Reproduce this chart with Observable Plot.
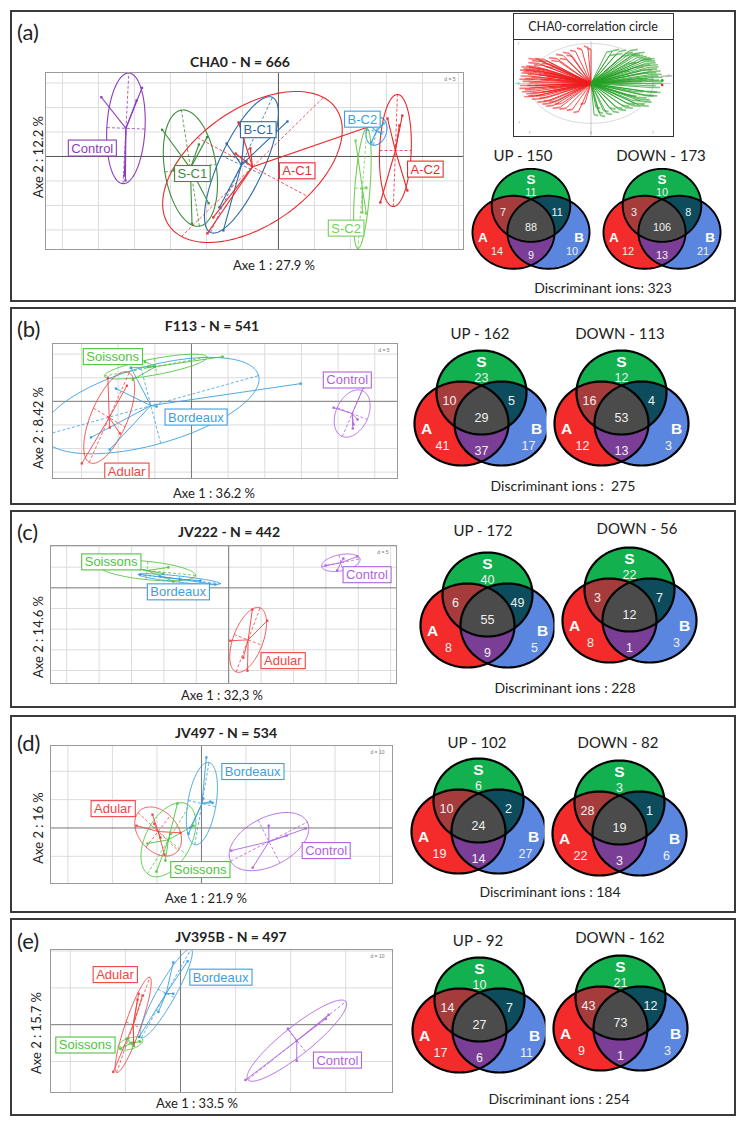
<!DOCTYPE html>
<html><head><meta charset="utf-8">
<script src="https://cdn.jsdelivr.net/npm/d3@7"></script>
<script src="https://cdn.jsdelivr.net/npm/@observablehq/plot@0.6"></script>
<style>
body{margin:0;background:#fff;}
#fig{position:relative;width:746px;height:1123px;overflow:hidden;font-family:Lato,"Open Sans",sans-serif;color:#222;background:#fff;}
.t{position:absolute;white-space:pre;transform:translate(-50%,-50%);line-height:1;}
.box{position:absolute;box-sizing:border-box;border:2px solid #3a3a3a;}
</style></head>
<body><div id="fig"></div>
<script>
// ---------------- DATA ----------------
const panelIds = ["(a)","(b)","(c)","(d)","(e)"];
const panelTitles = ["CHA0 - N = 666","F113 - N = 541","JV222 - N = 442","JV497 - N = 534","JV395B - N = 497"];
const axis1Labels = ["Axe 1 : 27.9 %","Axe 1 : 36.2 %","Axe 1 : 32,3 %","Axe 1 : 21.9 %","Axe 1 : 33.5 %"];
const axis2Labels = ["Axe 2 : 12.2 %","Axe 2 : 8.42 %","Axe 2 : 14.6 %","Axe 2 : 16 %","Axe 2 : 15.7 %"];
const gridD = ["d = 5","d = 5","d = 5","d = 10","d = 10"];
const upTotals = [150,162,172,102,92];
const downTotals = [173,113,56,82,162];
const discriminantIons = [323,275,228,184,254];
const discriminantPrefix = ["Discriminant ions: ","Discriminant ions :  ","Discriminant ions : ","Discriminant ions : ","Discriminant ions : "];

const vennRegions = ["S","A","B","AS","SB","AB","ASB"];
const vennUp = [[11,14,10,7,11,9,88],[23,41,17,10,5,37,29],[40,8,5,6,49,9,55],[6,19,27,10,2,14,24],[10,17,11,14,7,6,27]];
const vennDown = [[10,12,21,3,8,13,106],[12,12,3,16,4,13,53],[22,8,3,3,7,1,12],[3,22,6,28,1,3,19],[21,9,3,43,12,1,73]];

// PCA (between-class) scores, grid units
const groupsA = ["Control","S-C1","B-C1","A-C1","S-C2","B-C2","A-C2"];
const scoresA = [
 [[-4.92,2.42],[-3.79,2.80],[-3.94,2.29],[-4.28,-0.78],[-4.25,-0.98]],
 [[-3.23,1.09],[-1.98,0.79],[-2.21,0.49],[-2.91,-0.57],[-1.94,-1.91],[-2.40,-2.75]],
 [[0.25,1.43],[-1.44,0.53],[-0.92,1.27],[-1.64,-2.08],[-1.53,-3.02],[-0.89,-0.20]],
 [[2.53,1.22],[-1.11,1.39],[-0.78,0.33],[-1.97,-3.14],[-1.81,-2.49],[-1.19,0.12]],
 [[2.14,0.65],[2.31,-1.31],[2.33,-2.29],[2.44,-2.33],[2.44,-1.27]],
 [[2.53,1.27],[2.58,0.57],[2.92,1.35],[2.86,0.94]],
 [[3.03,1.55],[3.36,1.27],[2.83,-1.88],[3.58,-1.39],[3.44,1.67]]
];
const ellipseA = [[0.08,2.26,0.53,-0.03],[-0.25,2.37,0.71,0.16],[0.86,2.76,0.56,-0.38],[1.97,2.84,1.53,-1.20],[0.125,2.45,0.21,-0.02],[0.083,0.57,0.28,-0.04],[0.056,2.29,0.44,0]];

const groupsB = ["Soissons","Bordeaux","Adular","Control"];
const scoresB = [
 [[0.85,1.89],[-1.19,1.46],[-1.00,1.46],[-1.65,1.42],[-1.60,0.92],[-1.27,1.68]],
 [[2.98,0.75],[-2.06,0.54],[-1.65,1.42],[-2.74,-1.53],[-2.23,-2.04],[-0.95,-0.22]],
 [[-2.28,1.00],[-1.76,0.66],[-2.25,-0.69],[-2.23,-1.11],[-1.95,-1.36],[-2.99,-2.63]],
 [[3.88,-0.27],[4.69,0.58],[4.53,-0.77],[4.42,-0.98],[4.40,-1.15]]
];
const ellipseB = [[1.40,0.40,0.03,-0.34],[2.94,1.27,0.27,-1.60],[0.545,1.90,0.43,-0.40],[0.27,0.97,0.41,-0.25]];

const groupsC = ["Soissons","Bordeaux","Adular","Control"];
const scoresC = [
 [[-2.02,0.69],[-1.86,0.99],[-1.71,0.31],[-3.34,1.08],[-3.68,1.13]],
 [[-2.73,0.65],[-2.11,0.55],[-1.49,0.40],[-0.87,0.35],[-0.41,0.16]],
 [[0.73,-1.05],[1.19,-1.59],[0.05,-2.56],[0.45,-3.38],[0.58,-4.01]],
 [[2.99,1.08],[3.97,1.52],[3.35,0.84],[3.54,1.42]]
];
const ellipseC = [[1.50,-0.24,-0.03,-0.44],[1.27,-0.22,0,-0.15],[0.37,1.55,0.43,-0.26],[0.59,0.19,0.06,-0.38]];

const groupsD = ["Bordeaux","Adular","Soissons","Control"];
const scoresD = [
 [[0.11,2.49],[0.25,0.89],[0.04,1.04],[-0.25,0.01],[-0.29,-0.20],[0.20,0.93]],
 [[-1.46,0.08],[-1.10,0.47],[-1.06,0.15],[-0.47,-0.17],[-0.83,-0.94],[-0.92,-0.34]],
 [[-0.54,0.86],[-0.18,0.08],[-1.21,-0.55],[-0.81,-1.15],[-1.01,-1.54],[-0.70,-0.20]],
 [[0.67,-0.80],[1.51,0.08],[1.91,-0.27],[2.34,-0.02],[1.15,-1.40]]
];
const ellipseD = [[0.16,1.45,0.31,-0.11],[0.45,-0.67,0.27,0.55],[0.47,1.20,0.40,-0.52],[0.86,0.69,0.245,-0.76]];

const groupsE = ["Adular","Bordeaux","Soissons","Control"];
const scoresE = [
 [[-0.76,0.84],[-0.69,0.79],[-0.78,0.68],[-0.85,-0.57],[-1.22,-1.28],[-0.85,-0.49]],
 [[-0.13,1.69],[0.13,1.72],[-0.27,0.84],[-0.13,0.84],[-0.40,0.35],[-0.75,-0.33]],
 [[-0.98,-0.38],[-0.89,-0.49],[-1.09,-0.65],[-0.85,-0.57],[-0.73,-0.46]],
 [[1.18,-1.50],[1.95,-0.11],[2.11,-0.44],[2.11,-0.98],[2.69,0.27],[2.64,0.16]]
];
const ellipseE = [[0.30,1.29,0.13,-0.08],[0.45,1.20,0.15,-0.11],[0.22,0.11,0.04,-0.14],[0.89,1.06,0.16,-0.30]];

// correlation circle loadings (approximate)
const loadingsNeg = [[-0.95,0.25],[-0.98,0.1],[-0.97,-0.05],[-0.92,0.35],[-0.88,0.42],[-0.85,0.5],[-0.8,0.55],[-0.75,0.6],[-0.7,0.55],[-0.9,-0.15],[-0.88,-0.25],[-0.85,-0.3],[-0.8,-0.38],[-0.72,-0.45],[-0.65,-0.5],[-0.6,-0.55],[-0.5,-0.6],[-0.4,-0.62],[-0.3,-0.65],[-0.2,-0.7],[-0.1,-0.5],[-0.55,0.62],[-0.45,0.7],[-0.35,0.75],[-0.25,0.8],[-0.05,0.9],[0.0,0.85],[-0.96,0.18],[-0.93,0.05],[-0.9,0.12],[-0.86,0.22],[-0.82,-0.1],[-0.78,0.3],[-0.7,0.2],[-0.65,-0.2],[-0.6,0.4],[-0.98,-0.12],[-0.94,-0.2],[-0.75,-0.05],[-0.68,0.1],
 [-0.92,0.28],[-0.89,0.32],[-0.84,0.38],[-0.81,0.15],[-0.77,0.45],[-0.73,0.35],[-0.66,0.48],[-0.62,0.25],[-0.58,0.15],[-0.55,-0.1],[-0.87,-0.05],[-0.83,0.02],[-0.79,-0.22],[-0.74,-0.3],[-0.69,-0.35],[-0.63,-0.42],[-0.55,-0.45],[-0.47,-0.5],[-0.91,-0.32],[-0.95,0.4],[-0.52,0.55],[-0.4,0.6],[-0.3,0.68],[-0.15,0.85],[-0.85,0.6],[-0.97,0.32]];
const loadingsPos = [[0.95,0.3],[0.98,0.15],[0.97,0.0],[0.92,0.4],[0.88,0.5],[0.82,0.58],[0.75,0.65],[0.65,0.7],[0.55,0.75],[0.45,0.8],[0.35,0.82],[0.25,0.78],[0.9,-0.2],[0.85,-0.3],[0.8,-0.4],[0.72,-0.5],[0.65,-0.55],[0.55,-0.6],[0.45,-0.65],[0.35,-0.7],[0.25,-0.75],[0.15,-0.8],[0.08,-0.6],[0.96,0.22],[0.93,0.08],[0.9,0.35],[0.85,0.1],[0.8,0.45],[0.78,0.25],[0.7,0.4],[0.6,0.5],[0.94,-0.1],[0.88,-0.05],[0.7,-0.2],[0.6,-0.3],[0.5,0.3],[0.99,0.05],[0.86,0.6],[0.72,0.75],[0.62,0.82],
 [0.91,0.45],[0.87,0.55],[0.8,0.62],[0.7,0.68],[0.6,0.72],[0.5,0.68],[0.4,0.72],[0.3,0.7],[0.92,0.18],[0.89,0.26],[0.83,0.33],[0.76,0.12],[0.68,0.05],[0.9,-0.3],[0.82,-0.45],[0.75,-0.35],[0.66,-0.42],[0.58,-0.5],[0.5,-0.55],[0.4,-0.6],[0.3,-0.62],[0.2,-0.68],[0.95,-0.22],[0.78,-0.55],[0.12,-0.72],[0.05,-0.78]];

// ---------------- LAYOUT / STYLE ----------------
const colorsA = ["#8b3dbd","#3b8d3b","#2e6aa9","#e82a2e","#72cf58","#3aa0df","#e82a2e"];
const cSo = "#4fc43e", cBo = "#3a9fe0", cAd = "#f24444", cCo = "#b062e2";
const panels = [
 {groups:groupsA, scores:scoresA, ell:ellipseA, colors:colorsA,
  lab:[[-5.17,0.33],[-2.39,-0.71],[-0.56,1.08],[0.52,-0.60],[1.88,-2.94],[2.33,1.51],[4.08,-0.53]],
  box:[10,10,736,302], frame:[45,72,463,249], xd:[-6.47,5.14], yd:[-3.80,3.43], zero:"#555",
  id:[17,32], title:[240,62], ax1:[274,265], ax2:[38,157], upT:[523,155], downT:[661,155], disc:[603,288], vUp:[530,168,0.87], vDown:[661,168,0.87]},
 {groups:groupsB, scores:scoresB, ell:ellipseB, colors:[cSo,cBo,cAd,cCo],
  lab:[[-2.15,1.88],[0.12,-0.68],[-1.77,-2.97],[4.25,0.89]],
  box:[10,307,736,505], frame:[52,343,397,478], xd:[-3.79,5.62], yd:[-3.27,2.45], zero:"#777",
  id:[17,329], title:[212,326], ax1:[214,493], ax2:[38,428], upT:[480,333], downT:[620,333], disc:[563,486], vUp:[481,350,1], vDown:[621,350,1]},
 {groups:groupsC, scores:scoresC, ell:ellipseC, colors:[cSo,cBo,cAd,cCo],
  lab:[[-3.63,1.24],[-1.56,-0.21],[1.67,-3.54],[4.27,0.62]],
  box:[10,510,736,708], frame:[50,545,396,683], xd:[-5.50,5.18], yd:[-4.63,2.05], zero:"#777",
  id:[17,532], title:[229,532], ax1:[222,695], ax2:[38,637], upT:[483,530], downT:[637,528], disc:[565,688], vUp:[487,552,1], vDown:[629,547,1]},
 {groups:groupsD, scores:scoresD, ell:ellipseD, colors:[cBo,cAd,cSo,cCo],
  lab:[[1.15,1.98],[-1.99,0.67],[-0.03,-1.48],[2.80,-0.81]],
  box:[10,715,736,913], frame:[50,745,392,883], xd:[-3.39,4.29], yd:[-1.96,2.91], zero:"#777",
  id:[17,743], title:[226,733], ax1:[206,898], ax2:[38,828], upT:[477,742], downT:[618,742], disc:[550,892], vUp:[478,758,1], vDown:[619,760,1]},
 {groups:groupsE, scores:scoresE, ell:ellipseE, colors:[cAd,cBo,cSo,cCo],
  lab:[[-1.19,1.35],[0.73,1.28],[-1.73,-0.56],[2.85,-0.97]],
  box:[10,918,736,1116], frame:[50,949,392,1092], xd:[-2.36,3.85], yd:[-1.84,2.04], zero:"#777",
  id:[17,941], title:[231,937], ax1:[197,1103], ax2:[36,1033], upT:[478,940], downT:[620,937], disc:[559,1099], vUp:[479,957,1], vDown:[620,955,1]}
];
const vennFill = {S:"#12b04f", A:"#f42b2b", B:"#5a86e0", AS:"#a63b3b", SB:"#0c4c5c", AB:"#7b3e97", ASB:"#4b4b4b"};
const vennLabelPos = {S:[0,32],A:[-39,100],B:[47,100],AS:[-32,55],SB:[30,55],AB:[0,105],ASB:[0,72]};
const vennLetters = [["S",0,17],["A",-55,84],["B",55,84]];
const vennShapes = [{k:"S",cx:0,cy:47,rx:45,ry:42},{k:"A",cx:-20,cy:78,rx:47,ry:42},{k:"B",cx:20,cy:78,rx:47,ry:42}];

// ---------------- HELPERS ----------------
const fig = document.getElementById("fig");
const SVGNS = "http://www.w3.org/2000/svg";
function addText(txt, x, y, css) {
  const d = document.createElement("div"); d.className = "t"; d.textContent = txt;
  d.style.left = x + "px"; d.style.top = y + "px"; Object.assign(d.style, css || {}); fig.appendChild(d); return d;
}
function addBox(l, t, r, b, css) {
  const d = document.createElement("div"); d.className = "box";
  Object.assign(d.style, {left:l+"px", top:t+"px", width:(r-l)+"px", height:(b-t)+"px"}, css || {}); fig.appendChild(d); return d;
}
function place(svg, l, t) {
  svg.style.position = "absolute"; svg.style.left = l + "px"; svg.style.top = t + "px";
  svg.style.background = "transparent"; svg.style.maxWidth = "none"; svg.style.overflow = "visible";
  fig.appendChild(svg);
}
function ellipsePts(cx, cy, u1, v1, u2, v2, key, color) {
  return d3.range(0, 145).map(j => { const t = j / 144 * 2 * Math.PI;
    return {k:key, color, x: cx + u1*Math.cos(t) + u2*Math.sin(t), y: cy + v1*Math.cos(t) + v2*Math.sin(t)}; });
}

// ---------------- PCA PLOTS ----------------
function pcaPlot(p, idx) {
  const [L,T,R,B] = p.frame;
  const W = R - L, H = B - T;
  const rows = p.groups.map((g,i) => {
    const pts = p.scores[i];
    return {g, color:p.colors[i], cx:d3.mean(pts,d=>d[0]), cy:d3.mean(pts,d=>d[1]), pts, ax:p.ell[i]};
  });
  const ell = rows.flatMap(r => ellipsePts(r.cx, r.cy, r.ax[0], r.ax[1], r.ax[2], r.ax[3], r.g, r.color));
  const axesSeg = rows.flatMap(r => [
    {x1:r.cx-r.ax[0], y1:r.cy-r.ax[1], x2:r.cx+r.ax[0], y2:r.cy+r.ax[1], color:r.color},
    {x1:r.cx-r.ax[2], y1:r.cy-r.ax[3], x2:r.cx+r.ax[2], y2:r.cy+r.ax[3], color:r.color}]);
  const stars = rows.flatMap(r => r.pts.map(q => ({x1:r.cx, y1:r.cy, x2:q[0], y2:q[1], color:r.color})));
  const dots = rows.flatMap(r => r.pts.map(q => ({x:q[0], y:q[1], color:r.color})));
  const labels = rows.map((r,i) => ({x:p.lab[i][0], y:p.lab[i][1], text:r.g, color:r.color}));
  const gx = d3.range(Math.ceil(p.xd[0]), Math.floor(p.xd[1]) + 1).filter(v => v !== 0);
  const gy = d3.range(Math.ceil(p.yd[0]), Math.floor(p.yd[1]) + 1).filter(v => v !== 0);
  const sw = idx === 0 ? 1.1 : 0.9;
  const svg = Plot.plot({
    width: W + 2, height: H + 2, margin: 1,
    x: {domain: p.xd, axis: null}, y: {domain: p.yd, axis: null},
    color: {type: "identity"},
    marks: [
      Plot.ruleX(gx, {stroke:"#dcdcdc", strokeWidth:1}),
      Plot.ruleY(gy, {stroke:"#dcdcdc", strokeWidth:1}),
      Plot.ruleX([0], {stroke:p.zero, strokeWidth:1}),
      Plot.ruleY([0], {stroke:p.zero, strokeWidth:1}),
      Plot.line(ell, {x:"x", y:"y", z:"k", stroke:"color", strokeWidth:sw, clip:true}),
      Plot.link(axesSeg, {x1:"x1", y1:"y1", x2:"x2", y2:"y2", stroke:"color", strokeWidth:0.8, strokeDasharray:"3,2", clip:true}),
      Plot.link(stars, {x1:"x1", y1:"y1", x2:"x2", y2:"y2", stroke:"color", strokeWidth:sw, clip:true}),
      Plot.dot(dots, {x:"x", y:"y", fill:"color", symbol:"square", r:1.3, clip:true}),
      Plot.text(labels, {x:"x", y:"y", text:"text", fill:"color", fontSize:13, fontFamily:"Liberation Sans, Arial, sans-serif", clip:true}),
      Plot.text([p.dText], {frameAnchor:"top-right", text:d=>d, dx:-8, dy:5, fontSize:5, fill:"#777", fontFamily:"Liberation Sans"}),
      Plot.frame({stroke:"#9a9a9a", strokeWidth:1})
    ]
  });
  place(svg, L - 1, T - 1);
  // white boxes with coloured border behind each group label
  const colorOf = new Map(labels.map(l => [l.text, l.color]));
  Array.from(svg.querySelectorAll("text")).forEach(t => {
    const name = t.textContent;
    if (!colorOf.has(name)) return;
    const bb = t.getBBox();
    const rect = document.createElementNS(SVGNS, "rect");
    rect.setAttribute("x", bb.x - 3); rect.setAttribute("y", bb.y - 0.5);
    rect.setAttribute("width", bb.width + 6); rect.setAttribute("height", bb.height + 1);
    rect.setAttribute("fill", "white"); rect.setAttribute("stroke", colorOf.get(name));
    rect.setAttribute("stroke-width", 1.1);
    const tr = t.getAttribute("transform");
    if (tr) rect.setAttribute("transform", tr);
    t.parentNode.insertBefore(rect, t);
  });
}

// ---------------- VENN ----------------
function vennPlot(counts, cx, top, s) {
  const W = Math.round(150 * s), H = Math.round(130 * s);
  const inside = (e, x, y) => ((x - e.cx) / e.rx) ** 2 + ((y - e.cy) / e.ry) ** 2 <= 1;
  const [eS, eA, eB] = vennShapes;
  const fill = (x, y) => {
    const s1 = inside(eS,x,y), a = inside(eA,x,y), b = inside(eB,x,y);
    if (s1 && a && b) return vennFill.ASB;
    if (a && s1) return vennFill.AS;
    if (b && s1) return vennFill.SB;
    if (a && b) return vennFill.AB;
    if (s1) return vennFill.S;
    if (a) return vennFill.A;
    if (b) return vennFill.B;
    return "white";
  };
  const outline = vennShapes.flatMap(e => ellipsePts(e.cx, e.cy, e.rx, 0, 0, e.ry, e.k, "#000"));
  const labels = vennRegions.map((r,i) => ({x:vennLabelPos[r][0], y:vennLabelPos[r][1], text:String(counts[i])}));
  const letters = vennLetters.map(([t,x,y]) => ({t,x,y}));
  const svg = Plot.plot({
    width: W, height: H, margin: 0,
    x: {domain: [-75, 75], axis: null}, y: {domain: [0, 130], reverse: true, axis: null},
    color: {type: "identity"},
    marks: [
      Plot.raster({fill, x1:-75, x2:75, y1:0, y2:130, width: W * 3, height: H * 3, imageRendering: "auto"}),
      Plot.line(outline, {x:"x", y:"y", z:"k", stroke:"#000", strokeWidth: 2.2 * s}),
      Plot.text(labels, {x:"x", y:"y", text:"text", fill:"#f0f0f0", fontSize: 12.5 * s, fontFamily:"Liberation Sans, Arial, sans-serif"}),
      Plot.text(letters, {x:"x", y:"y", text:"t", fill:"#ffffff", fontSize: 15.5 * s, fontWeight:"bold", fontFamily:"Liberation Sans, Arial, sans-serif"})
    ]
  });
  place(svg, cx - W / 2, top - 5 * s);
}

// ---------------- CORRELATION CIRCLE ----------------
function corrCircle() {
  addBox(513, 13, 674, 137, {border:"1.5px solid #333"});
  addBox(513, 13, 674, 40, {border:"1.5px solid #333"});
  addText("CHA0-correlation circle", 593, 26.5, {fontSize:"12.5px", color:"#222"});
  const circ = ellipsePts(0, 0, 1, 0, 0, 1, "c", "#ccc");
  const neg = loadingsNeg.map(d => ({x1:0, y1:0, x2:d[0], y2:d[1]}));
  const pos = loadingsPos.map(d => ({x1:0, y1:0, x2:d[0], y2:d[1]}));
  const negTip = loadingsNeg.map(d => ({x1:d[0], y1:d[1], x2:d[0] * 1.12 - 0.06, y2:d[1] * 1.04}));
  const posTip = loadingsPos.map(d => ({x1:d[0], y1:d[1], x2:d[0] * 1.12 + 0.06, y2:d[1] * 1.04}));
  const ticks = [-1, 0, 1];
  const svg = Plot.plot({
    width: 156, height: 95, margin: 0,
    x: {domain: [-1.22, 1.3], axis: null}, y: {domain: [-1.33, 1.05], axis: null},
    marks: [
      Plot.line(circ, {x:"x", y:"y", stroke:"#cfcfcf", strokeWidth:0.8}),
      Plot.ruleX([0], {stroke:"#aaa", strokeWidth:0.6}),
      Plot.ruleY([0], {stroke:"#aaa", strokeWidth:0.6}),
      Plot.link(neg, {x1:"x1", y1:"y1", x2:"x2", y2:"y2", stroke:"#ee1c1c", strokeWidth:0.8}),
      Plot.link(pos, {x1:"x1", y1:"y1", x2:"x2", y2:"y2", stroke:"#23a023", strokeWidth:0.8}),
      Plot.link(negTip, {x1:"x1", y1:"y1", x2:"x2", y2:"y2", stroke:"#ee1c1c", strokeWidth:1.6, strokeOpacity:0.6}),
      Plot.link(posTip, {x1:"x1", y1:"y1", x2:"x2", y2:"y2", stroke:"#23a023", strokeWidth:1.6, strokeOpacity:0.6}),
      Plot.text(ticks, {x:d=>d, y:-1.24, text:d=>String(d), fontSize:3.5, fill:"#888"}),
      Plot.text(ticks, {x:-1.17, y:d=>d, text:d=>String(d), fontSize:3.5, fill:"#888"}),
      Plot.text(["Loadin"], {x:1.22, y:0.2, text:d=>d, fontSize:3.5, fill:"#555"}),
      Plot.dot([["+",0.08,"#23a023"],["-",-0.04,"#ee1c1c"]], {x:1.15, y:d=>d[1], fill:d=>d[2], r:1.3})
    ]
  });
  place(svg, 515, 41);
}

// ---------------- BUILD ----------------
panels.forEach((p, i) => {
  p.dText = gridD[i];
  addBox(p.box[0], p.box[1], p.box[2], p.box[3]);
  addText(panelIds[i], p.id[0], p.id[1], {fontSize:"22px", transform:"translate(0,-50%)"});
  addText(panelTitles[i], p.title[0], p.title[1], {fontSize:"14px", fontWeight:"bold"});
  pcaPlot(p, i);
  addText(axis1Labels[i], p.ax1[0], p.ax1[1], {fontSize:"13px"});
  addText(axis2Labels[i], p.ax2[0], p.ax2[1], {fontSize:"13px", transform:"translate(-50%,-50%) rotate(-90deg)"});
  vennPlot(vennUp[i], p.vUp[0], p.vUp[1], p.vUp[2]);
  vennPlot(vennDown[i], p.vDown[0], p.vDown[1], p.vDown[2]);
  addText("UP - " + upTotals[i], p.upT[0], p.upT[1], {fontSize:"15px"});
  addText("DOWN - " + downTotals[i], p.downT[0], p.downT[1], {fontSize:"15px"});
  addText(discriminantPrefix[i] + discriminantIons[i], p.disc[0], p.disc[1], {fontSize:"14px"});
});
corrCircle();
</script>
</body></html>
